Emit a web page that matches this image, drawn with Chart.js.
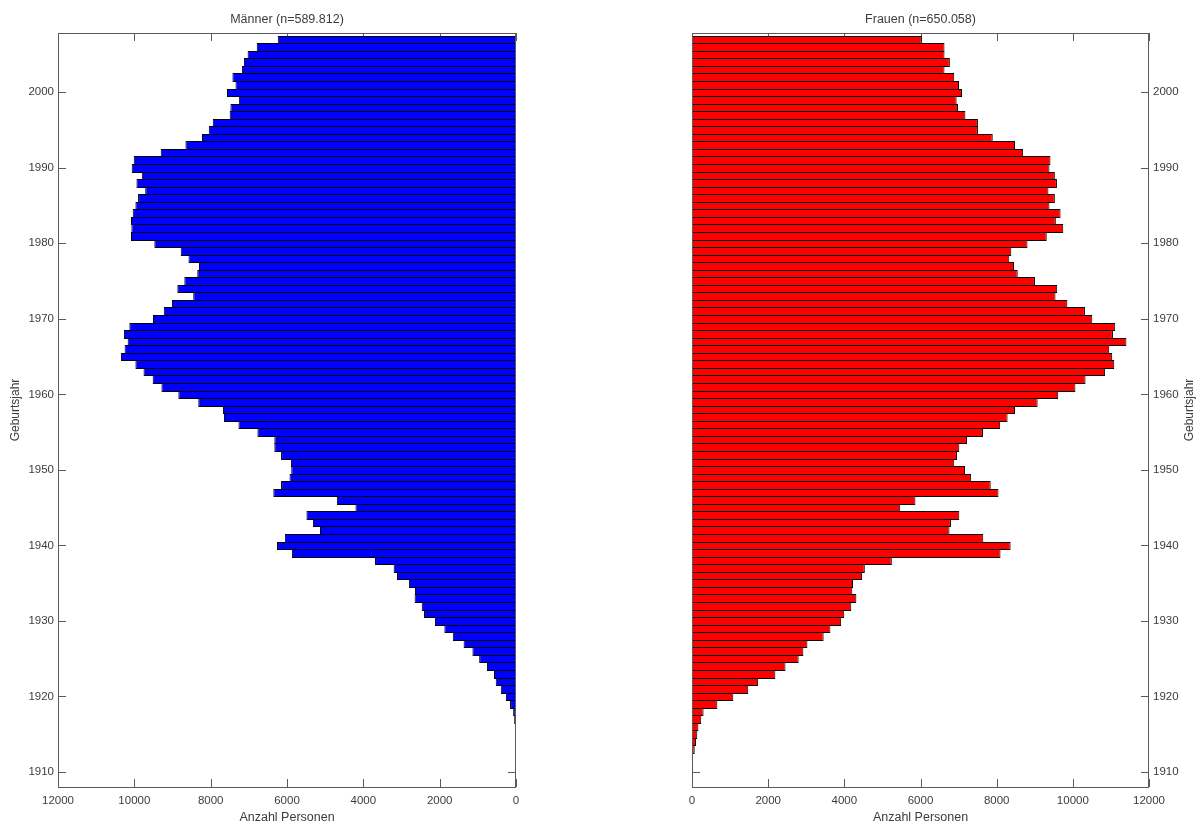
<!DOCTYPE html>
<html>
<head>
<meta charset="utf-8">
<title>Geburtsjahrgänge nach Geschlecht</title>
<script src="https://cdn.jsdelivr.net/npm/chart.js@4.4.1/dist/chart.umd.min.js"></script>
<style>
  html, body { margin: 0; padding: 0; background: #fff; }
  #wrap { position: relative; width: 1200px; height: 825px; overflow: hidden; }
  .pane { position: absolute; top: 0; width: 600px; height: 825px; }
</style>
</head>
<body>
<div id="wrap">
  <div class="pane" style="left:0"><canvas id="men" width="600" height="825"></canvas></div>
  <div class="pane" style="left:600px"><canvas id="women" width="600" height="825"></canvas></div>
</div>
<script>
// Birth years (one bar per year)
const birthYears = [
  1908, 1909, 1910, 1911, 1912, 1913, 1914, 1915, 1916, 1917,
  1918, 1919, 1920, 1921, 1922, 1923, 1924, 1925, 1926, 1927,
  1928, 1929, 1930, 1931, 1932, 1933, 1934, 1935, 1936, 1937,
  1938, 1939, 1940, 1941, 1942, 1943, 1944, 1945, 1946, 1947,
  1948, 1949, 1950, 1951, 1952, 1953, 1954, 1955, 1956, 1957,
  1958, 1959, 1960, 1961, 1962, 1963, 1964, 1965, 1966, 1967,
  1968, 1969, 1970, 1971, 1972, 1973, 1974, 1975, 1976, 1977,
  1978, 1979, 1980, 1981, 1982, 1983, 1984, 1985, 1986, 1987,
  1988, 1989, 1990, 1991, 1992, 1993, 1994, 1995, 1996, 1997,
  1998, 1999, 2000, 2001, 2002, 2003, 2004, 2005, 2006, 2007
];

// Number of men per birth year
const menCounts = [
     2,     3,     4,     6,     8,    12,    15,    18,    27,    48,
    75,   155,   266,   399,   531,   576,   762,   965,  1142,  1373,
  1656,  1877,  2125,  2409,  2471,  2657,  2648,  2807,  3117,  3206,
  3693,  5872,  6261,  6057,  5136,  5322,  5491,  4207,  4694,  6359,
  6155,  5934,  5889,  5898,  6155,  6332,  6332,  6775,  7271,  7652,
  7678,  8325,  8847,  9290,  9520,  9759,  9972, 10352, 10255, 10175,
 10273, 10131,  9511,  9228,  9015,  8457,  8874,  8690,  8351,  8307,
  8581,  8785,  9476, 10087, 10078, 10087, 10043,  9972,  9901,  9715,
  9945,  9804, 10069, 10016,  9308,  8661,  8227,  8050,  7944,  7501,
  7483,  7262,  7572,  7350,  7430,  7182,  7129,  7032,  6793,  6243
];

// Number of women per birth year
const womenCounts = [
     3,     4,     6,    10,    27,    71,   106,   138,   168,   243,
   304,   666,  1085,  1477,  1737,  2189,  2455,  2801,  2925,  3031,
  3457,  3634,  3917,  3997,  4183,  4316,  4210,  4228,  4467,  4538,
  5247,  8101,  8367,  7649,  6762,  6798,  7019,  5468,  5867,  8048,
  7844,  7330,  7170,  6886,  6957,  7019,  7223,  7640,  8092,  8287,
  8482,  9076,  9616, 10068, 10334, 10848, 11088, 11034, 10955, 11407,
 11052, 11114, 10511, 10317,  9856,  9545,  9590,  9005,  8553,  8455,
  8331,  8384,  8810,  9315,  9749,  9554,  9678,  9386,  9528,  9359,
  9581,  9528,  9386,  9413,  8695,  8482,  7897,  7507,  7507,  7179,
  6984,  6949,  7090,  7011,  6886,  6630,  6771,  6630,  6630,  6036
];

// Tick positions
const yearTicks  = [1910, 1920, 1930, 1940, 1950, 1960, 1970, 1980, 1990, 2000];
const countTicks = [0, 2000, 4000, 6000, 8000, 10000, 12000];

// Texts
const menTitle   = 'Männer (n=589.812)';
const womenTitle = 'Frauen (n=650.058)';
const xTitle     = 'Anzahl Personen';
const yTitle     = 'Geburtsjahr';

const FONT_FAMILY = '"Liberation Sans", Arial, Helvetica, sans-serif';
const TEXT_COLOR  = '#3c3c3c';
const AXIS_COLOR  = '#5a5a5a';
const TICK_LEN    = 8;

// Each bar covers its year from y-0.5 to y+0.5. The edges are rounded to
// whole pixels and the bar is grown by one pixel so that the outlines of
// neighbouring years fall on the same pixel row (one crisp 1px separator).
const snapBarsPlugin = {
  id: 'snapBars',
  afterDatasetsUpdate(chart) {
    const yScale = chart.scales.y;
    chart.getSortedVisibleDatasetMetas().forEach(meta => {
      meta.data.forEach((el, i) => {
        const year = meta._parsed[i].y;
        const top = Math.round(yScale.getPixelForValue(year + 0.5));
        const bottom = Math.round(yScale.getPixelForValue(year - 0.5)) + 1;
        el.y = (top + bottom) / 2;
        el.height = bottom - top;
      });
    });
  }
};

// Inward tick marks on all four sides, the surrounding box and the texts
const framePlugin = {
  id: 'frame',
  beforeDatasetsDraw(chart) {
    const { ctx, chartArea: a, scales: { x, y } } = chart;
    ctx.save();
    ctx.strokeStyle = AXIS_COLOR;
    ctx.lineWidth = 1;
    ctx.beginPath();
    x.ticks.forEach(t => {
      const px = Math.round(x.getPixelForValue(t.value)) + 0.5;
      ctx.moveTo(px, a.top);    ctx.lineTo(px, a.top + TICK_LEN);
      ctx.moveTo(px, a.bottom); ctx.lineTo(px, a.bottom - TICK_LEN);
    });
    y.ticks.forEach(t => {
      const py = Math.round(y.getPixelForValue(t.value)) + 0.5;
      ctx.moveTo(a.left, py);  ctx.lineTo(a.left + TICK_LEN, py);
      ctx.moveTo(a.right, py); ctx.lineTo(a.right - TICK_LEN, py);
    });
    ctx.stroke();
    ctx.restore();
  },
  afterDatasetsDraw(chart) {
    const { ctx, chartArea: a } = chart;
    ctx.save();
    ctx.strokeStyle = AXIS_COLOR;
    ctx.lineWidth = 1;
    ctx.strokeRect(Math.round(a.left) + 0.5, Math.round(a.top) + 0.5,
                   Math.round(a.right - a.left) - 1, Math.round(a.bottom - a.top));
    ctx.restore();
  },
  afterDraw(chart, args, opts) {
    const { ctx, chartArea: a } = chart;
    const cx = (a.left + a.right) / 2;
    ctx.save();
    ctx.fillStyle = TEXT_COLOR;
    ctx.font = '12.5px ' + FONT_FAMILY;
    ctx.textAlign = 'center';
    ctx.textBaseline = 'alphabetic';
    ctx.fillText(opts.title, cx, 22.5);
    ctx.fillText(xTitle, cx, 821);
    ctx.font = '12px ' + FONT_FAMILY;
    ctx.translate(opts.yTitleX, (a.top + a.bottom) / 2);
    ctx.rotate(-Math.PI / 2);
    ctx.fillText(yTitle, 0, 0);
    ctx.restore();
  }
};

function pyramidPanel(canvasId, counts, color, side, title, yTitleX) {
  const onLeft = side === 'left';
  const points = birthYears.map((year, i) => ({ x: counts[i], y: year }));
  const tickFont = { family: FONT_FAMILY, size: 11.5 };
  return new Chart(document.getElementById(canvasId), {
    type: 'bar',
    data: {
      datasets: [{
        data: points,
        backgroundColor: color,
        borderColor: '#000000',
        borderWidth: 1,
        borderSkipped: 'start',
        inflateAmount: 0,
        barPercentage: 1,
        categoryPercentage: 1
      }]
    },
    options: {
      indexAxis: 'y',
      responsive: false,
      animation: false,
      devicePixelRatio: 1,
      layout: { padding: { top: 33, bottom: 0, left: onLeft ? 0 : 92, right: onLeft ? 84 : 0 } },
      plugins: {
        legend: { display: false },
        tooltip: { enabled: false },
        frame: { title: title, yTitleX: yTitleX }
      },
      scales: {
        x: {
          type: 'linear',
          position: 'bottom',
          reverse: onLeft,
          min: 0,
          max: 12000,
          grid: { display: false, drawTicks: false },
          border: { display: false },
          afterBuildTicks: s => { s.ticks = countTicks.map(v => ({ value: v })); },
          afterFit: s => { s.height = 38; },
          ticks: {
            autoSkip: false, maxRotation: 0, padding: 7,
            color: TEXT_COLOR, font: tickFont,
            callback: v => String(v)
          }
        },
        y: {
          type: 'linear',
          position: side,
          min: 1908,
          max: 2007.85,
          offset: false,
          grid: { display: false, drawTicks: false },
          border: { display: false },
          afterBuildTicks: s => { s.ticks = yearTicks.map(v => ({ value: v })); },
          afterFit: s => { s.width = onLeft ? 58 : 51; },
          ticks: {
            autoSkip: false, padding: 4,
            color: TEXT_COLOR, font: tickFont,
            callback: v => String(v)
          }
        }
      }
    },
    plugins: [snapBarsPlugin, framePlugin]
  });
}

pyramidPanel('men',   menCounts,   '#0000ff', 'left',  menTitle,   19);
pyramidPanel('women', womenCounts, '#ff0000', 'right', womenTitle, 593);
</script>
</body>
</html>
